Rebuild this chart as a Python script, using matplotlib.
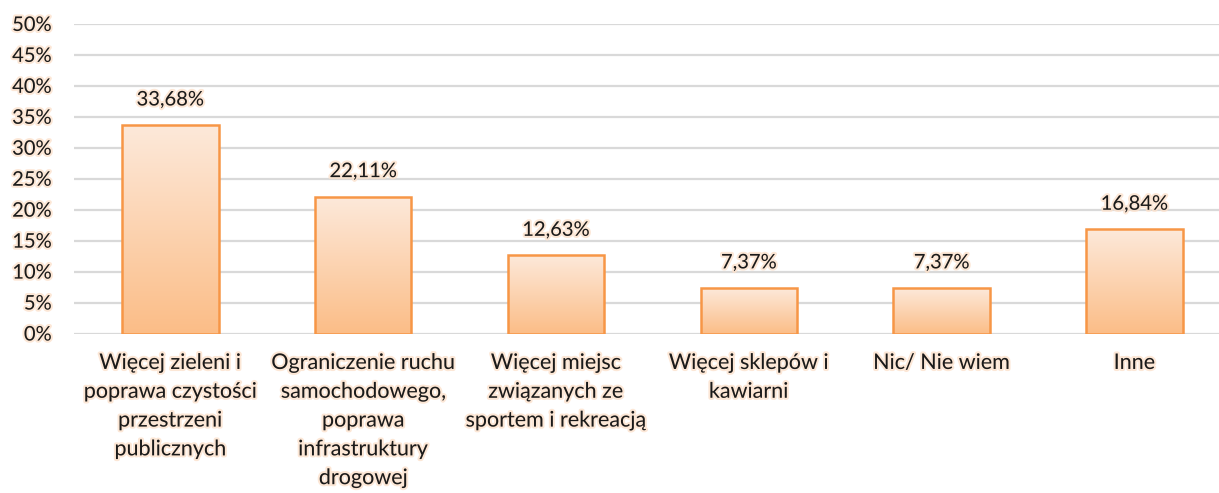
import numpy as np
import matplotlib
matplotlib.use("Agg")
from matplotlib import pyplot as plt
from matplotlib import patheffects as pe
from matplotlib.colors import LinearSegmentedColormap

categories = [
    "Więcej zieleni i\npoprawa czystości\nprzestrzeni\npublicznych",
    "Ograniczenie ruchu\nsamochodowego,\npoprawa\ninfrastruktury\ndrogowej",
    "Więcej miejsc\nzwiązanych ze\nsportem i rekreacją",
    "Więcej sklepów i\nkawiarni",
    "Nic/ Nie wiem",
    "Inne",
]
values = [33.68, 22.11, 12.63, 7.37, 7.37, 16.84]
yticks = [0, 5, 10, 15, 20, 25, 30, 35, 40, 45, 50]

plt.rcParams['font.family'] = ['Lato', 'DejaVu Sans']
glow = [pe.withStroke(linewidth=3, foreground="#FCE1CC", alpha=0.8)]

fig = plt.figure(figsize=(12.19, 4.93), dpi=100)
ax = fig.add_axes([0.0607, 0.3235, 0.949, 0.628])

x = np.arange(len(values))
bars = ax.bar(x, values, width=0.5, color="none", edgecolor="#F79646",
              linewidth=1.8, zorder=3)

# vertical gradient fill clipped to each bar
grad = LinearSegmentedColormap.from_list("peach", ["#FBBD87", "#FDE9DA"])
for b in bars:
    x0, y0 = b.get_x(), b.get_y()
    w, h = b.get_width(), b.get_height()
    im = ax.imshow(np.linspace(0, 1, 256).reshape(-1, 1), cmap=grad,
                   origin="lower", aspect="auto",
                   extent=[x0, x0 + w, y0, y0 + h], zorder=2)
    im.set_clip_path(b)

for xi, v in zip(x, values):
    ax.annotate(f"{v:.2f}%".replace(".", ","), (xi, v), xytext=(0, 18),
                textcoords="offset points", ha="center", va="center",
                fontsize=14.5, color="#1a1a1a", path_effects=glow)

ax.set_xlim(-0.5, len(values) - 0.5)
ax.set_ylim(0, 50)
ax.set_yticks(yticks)
ax.set_yticklabels([f"{t}%" for t in yticks])
ax.set_xticks(x)
ax.set_xticklabels(categories, linespacing=1.55, fontsize=15.5)
ax.yaxis.grid(True, color="#D9D9D9", linewidth=1.6, zorder=0)
ax.set_axisbelow(True)
for s in ax.spines.values():
    s.set_visible(False)
ax.tick_params(axis="y", length=0, labelsize=14.5, colors="#1a1a1a", pad=16)
ax.tick_params(axis="x", length=0, colors="#1a1a1a", pad=14)
for lab in ax.get_xticklabels() + ax.get_yticklabels():
    lab.set_path_effects(glow)

fig.savefig("out.png", dpi=100)
